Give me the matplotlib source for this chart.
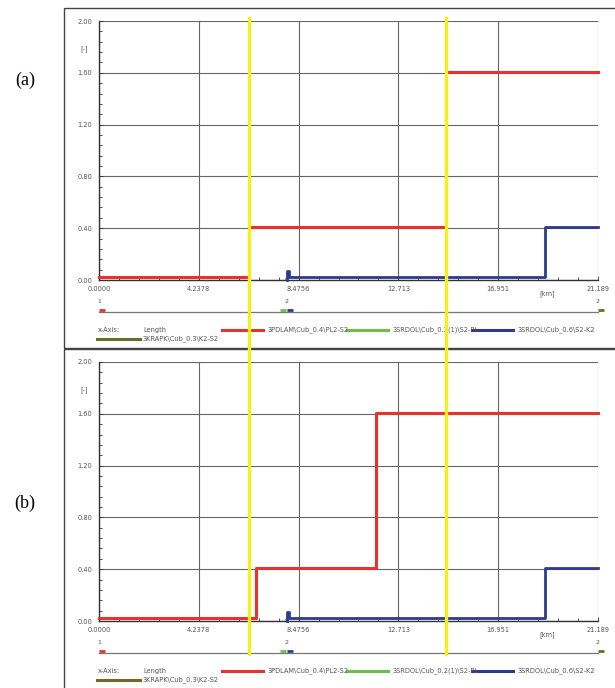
import matplotlib
matplotlib.use("Agg")
import matplotlib.pyplot as plt
from matplotlib.lines import Line2D
from matplotlib.patches import Rectangle
from matplotlib.ticker import MultipleLocator, FixedLocator

# ---------------- data ----------------
x_ticks = [0.0, 4.2378, 8.4756, 12.713, 16.951, 21.189]
x_tick_labels = ["0.0000", "4.2378", "8.4756", "12.713", "16.951", "21.189"]
y_ticks = [0.0, 0.4, 0.8, 1.2, 1.6, 2.0]
y_tick_labels = ["0.00", "0.40", "0.80", "1.20", "1.60", "2.00"]

# panel (a) red series breakpoints / levels (step 'post')
red_a_x = [0.0, 6.36, 14.75, 21.189]
red_a_y = [0.02, 0.41, 1.61, 1.61]
# panel (b) red series
red_b_x = [0.0, 6.65, 11.78, 21.189]
red_b_y = [0.02, 0.41, 1.61, 1.61]
# blue series (both panels)
blue_x = [7.98, 7.98, 8.06, 18.94, 21.189]
blue_y = [0.0, 0.07, 0.02, 0.41, 0.41]
# green series (tiny, hidden under blue)
green_x = [7.92, 7.98]
green_y = [0.01, 0.01]

# yellow marker lines (km)
marker_km = [6.36, 14.75]

# node strip
node_km = [0.0, 7.98, 21.189]
node_labels = ["1", "2", "2"]
node_colors = ["#e8322d", "#2e3b8c", "#6b6b2a"]

legend_names = ["3PDLAM\\Cub_0.4\\PL2-S2", "3SRDOL\\Cub_0.2(1)\\S2-PL",
                "3SRDOL\\Cub_0.6\\S2-K2", "3KRAPK\\Cub_0.3\\K2-S2"]
legend_colors = ["#e8322d", "#6cc04a", "#2e3b8c", "#6b6b2a"]
panel_labels = ["(a)", "(b)"]

RED, BLUE, GREEN, OLIVE, YEL = "#e8322d", "#2e3b8c", "#6cc04a", "#6b6b2a", "#f5ef1c"
TXT = "#555555"

W, H = 615, 688
fig = plt.figure(figsize=(W / 100, H / 100), dpi=100)
fig.patch.set_facecolor("white")


def fx(x):
    return x / W


def fy(y):
    return 1 - y / H


def build_panel(off, rx, ry, label, label_y):
    # outer frame
    top_px = 8 if off == 0 else 349
    bot_px = 348 if off == 0 else 700
    fig.patches.append(Rectangle((fx(64), fy(bot_px)), fx(640) - fx(64),
                                 fy(top_px) - fy(bot_px),
                                 transform=fig.transFigure, fill=False,
                                 edgecolor="#444444", lw=1.0, zorder=0))
    ax = fig.add_axes([fx(99), fy(280 + off), fx(598) - fx(99), fy(21) - fy(280)])
    ax.set_xlim(0, 21.189)
    ax.set_ylim(0, 2.0)
    ax.set_facecolor("white")
    for s in ["top", "right"]:
        ax.spines[s].set_visible(False)
    ax.spines["left"].set_color("#333333")
    ax.spines["bottom"].set_color("#333333")
    ax.spines["left"].set_linewidth(1.0)
    ax.spines["bottom"].set_linewidth(1.0)
    ax.xaxis.set_major_locator(FixedLocator(x_ticks))
    ax.set_xticklabels(x_tick_labels)
    ax.yaxis.set_major_locator(FixedLocator(y_ticks))
    ax.set_yticklabels(y_tick_labels)
    ax.xaxis.set_minor_locator(MultipleLocator(4.2378 / 5))
    ax.yaxis.set_minor_locator(MultipleLocator(0.08))
    ax.tick_params(axis="both", which="both", direction="in", colors="#333333",
                   labelcolor=TXT, labelsize=4.8)
    ax.tick_params(axis="both", which="major", length=3, width=0.6)
    ax.tick_params(axis="both", which="minor", length=2.5, width=0.6)
    ax.tick_params(axis="x", which="major", pad=4)
    ax.tick_params(axis="y", which="major", pad=5)
    ax.grid(True, which="major", color="#666666", lw=0.8)
    ax.set_axisbelow(True)

    ax.step(rx, ry, where="post", color=RED, lw=2.2, zorder=3, clip_on=False)
    ax.plot(green_x, green_y, color=GREEN, lw=1.5, zorder=3)
    ax.step(blue_x, blue_y, where="post", color=BLUE, lw=2.0, zorder=4, clip_on=False)

    ax.text(19.03, -0.0385, "[km]", transform=ax.get_xaxis_transform(),
            ha="center", va="top", fontsize=4.8, color=TXT)
    ax.text(-0.022, 0.893, "[-]", transform=ax.transAxes, ha="right", va="center",
            fontsize=4.8, color=TXT)

    # node strip
    sx = fig.add_axes([fx(99), fy(313 + off), fx(598) - fx(99), fy(300) - fy(313)])
    sx.set_xlim(0, 21.189)
    sx.set_ylim(0, 1)
    sx.axis("off")
    sx.axhline(0.05, color="#777777", lw=0.9, clip_on=False)
    for k, lab, c in zip(node_km, node_labels, node_colors):
        sx.text(k, 0.85, lab, ha="center", va="center", fontsize=4.5, color=TXT)
        sx.plot([k, k + 0.25], [0.25, 0.25], color=c, lw=2.0, solid_capstyle="butt",
                clip_on=False)
    sx.plot([7.7, 7.95], [0.25, 0.25], color=GREEN, lw=2.0, solid_capstyle="butt")

    # legend
    ly1, ly2 = 330 + off, 339 + off
    fig.text(fx(98), fy(ly1), "x-Axis:", fontsize=4.8, color=TXT, va="center")
    fig.text(fx(143), fy(ly1), "Length", fontsize=4.8, color=TXT, va="center")
    segs = [(222, 263, 268, ly1), (347, 388, 393, ly1), (472, 513, 518, ly1),
            (97, 140, 143, ly2)]
    for (a, b, t, y), name, c in zip(segs, legend_names, legend_colors):
        fig.add_artist(Line2D([fx(a), fx(b)], [fy(y), fy(y)], color=c, lw=2.2,
                              transform=fig.transFigure))
        fig.text(fx(t), fy(y), name, fontsize=4.8, color=TXT, va="center")

    fig.text(fx(25), fy(label_y), label,
             fontsize=13, family="Liberation Serif", ha="center", va="center",
             color="black")
    return ax


ax1 = build_panel(0, red_a_x, red_a_y, panel_labels[0], 80)
ax2 = build_panel(341, red_b_x, red_b_y, panel_labels[1], 503)

# yellow marker lines across both panels
fig.canvas.draw()
for k in marker_km:
    xp = ax1.transData.transform((k, 0))[0] / fig.bbox.width
    fig.add_artist(Line2D([xp, xp], [fy(18), fy(654)], color=YEL, lw=2.4,
                          transform=fig.transFigure, zorder=10))

fig.savefig("out.png", dpi=100)
